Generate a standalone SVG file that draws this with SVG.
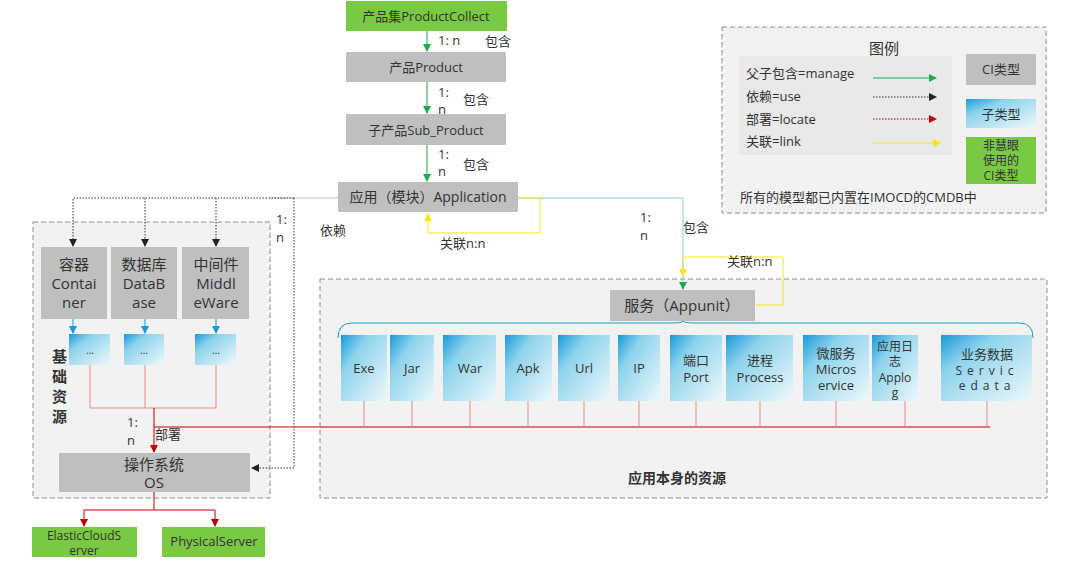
<svg xmlns="http://www.w3.org/2000/svg" width="1080" height="564" viewBox="0 0 1080 564">
<defs>
<linearGradient id="sg" x1="0" y1="0" x2="1" y2="1">
<stop offset="0" stop-color="#1a9ad8"/><stop offset="0.3" stop-color="#8dd3ec"/><stop offset="1" stop-color="#eef8fb"/>
</linearGradient>
<marker id="ag" markerWidth="8" markerHeight="8" refX="7" refY="4" orient="auto" markerUnits="userSpaceOnUse"><path d="M0,0L8,4L0,8z" fill="#1faa4c"/></marker>
<marker id="ak" markerWidth="8" markerHeight="8" refX="7" refY="4" orient="auto" markerUnits="userSpaceOnUse"><path d="M0,0L8,4L0,8z" fill="#222"/></marker>
<marker id="ar" markerWidth="8" markerHeight="8" refX="7" refY="4" orient="auto" markerUnits="userSpaceOnUse"><path d="M0,0L8,4L0,8z" fill="#c00000"/></marker>
<marker id="ay" markerWidth="8" markerHeight="8" refX="7" refY="4" orient="auto" markerUnits="userSpaceOnUse"><path d="M0,0L8,4L0,8z" fill="#f5e617"/></marker>
<marker id="ab" markerWidth="8" markerHeight="8" refX="7" refY="4" orient="auto" markerUnits="userSpaceOnUse"><path d="M0,0L8,4L0,8z" fill="#1a9ad8"/></marker>
</defs>
<style>
text{font-family:"Open Sans","Noto Sans CJK SC",sans-serif;fill:#333;font-size:13px}
.c{text-anchor:middle}
.gray{fill:#bfbfbf}
.green{fill:#7ac943}
.sub{fill:url(#sg)}
.dash{fill:#f2f2f2;stroke:#8c8c8c;stroke-dasharray:5,3;stroke-width:1}
.lg{stroke:#1faa4c;fill:none}
.lk{stroke:#333;stroke-dasharray:1.5,1.5;fill:none}
.lr{stroke:#c00000;fill:none}
.lrd{stroke:#c00000;stroke-dasharray:1.5,1.5;fill:none}
.lp{stroke:#e58a8a;fill:none}
.ly{stroke:#f5e617;fill:none}
.lt{stroke:#7fd3c8;fill:none}
.lb{stroke:#1a9ad8;fill:none}
.b{font-size:15px}
.s{font-size:12px}
</style>
<rect class="dash" x="33" y="222" width="237" height="276"/>
<rect class="dash" x="320" y="279" width="727" height="219"/>
<rect class="dash" x="722" y="27" width="324" height="186"/>

<g id="connectors">
<path class="lg" d="M427,31V51" marker-end="url(#ag)"/>
<path class="lg" d="M427,82V113" marker-end="url(#ag)"/>
<path class="lg" d="M427,145V181" marker-end="url(#ag)"/>
<path d="M270,198H338" stroke="#bfbfbf" fill="none"/>
<path class="lk" d="M294,198H73V246" marker-end="url(#ak)"/>
<path class="lk" d="M145,198V246" marker-end="url(#ak)"/>
<path class="lk" d="M216,198V246" marker-end="url(#ak)"/>
<path class="lk" d="M294,198V468H252" marker-end="url(#ak)"/>
<path class="lb" d="M73,319V333" marker-end="url(#ab)"/>
<path class="lb" d="M145,319V333" marker-end="url(#ab)"/>
<path class="lb" d="M216,319V333" marker-end="url(#ab)"/>
<path class="lp" d="M90,365V408H216V365M145,365V408"/>
<path class="lr" d="M154,408V452" marker-end="url(#ar)"/>
<path class="lr" d="M154,427H990"/>
<path class="lp" d="M364,401V427M412,401V427M470,401V427M528,401V427M584,401V427M639,401V427M696,401V427M760,401V427M836,401V427M905,401V427M987,401V427"/>
<path class="lr" d="M154,492V510H215V526" marker-end="url(#ar)"/>
<path class="lr" d="M154,510H84V526" marker-end="url(#ar)"/>
<path class="lt" d="M518,198H683V289" marker-end="url(#ag)"/>
<path class="ly" d="M518,198H540V233H428V214" marker-end="url(#ay)"/>
<path class="ly" d="M683,257H783V305H756"/>
<path class="ly" d="M683,257V276" marker-end="url(#ay)"/>
<path class="lb" d="M338,338Q338,323 352,323H670Q683,323 683,321Q683,323 696,323H1020Q1033,323 1033,338"/>
</g>

<g id="productcollect"><rect class="green" x="346" y="1" width="161" height="30"/><text class="c" x="426" y="21">产品集ProductCollect</text></g>
<text x="438" y="45">1: n</text><text x="485" y="46">包含</text>
<g id="product"><rect class="gray" x="346" y="52" width="160" height="30"/><text class="c" x="426" y="72">产品Product</text></g>
<text x="438" y="97">1:</text><text x="438" y="114">n</text><text x="463" y="104">包含</text>
<g id="subproduct"><rect class="gray" x="346" y="114" width="160" height="31"/><text class="c" x="426" y="135">子产品Sub_Product</text></g>
<text x="438" y="159">1:</text><text x="438" y="176">n</text><text x="463" y="169">包含</text>
<g id="application"><rect class="gray" x="338" y="182" width="180" height="30"/><text class="c" x="428" y="202" style="font-size:14px">应用（模块）Application</text></g>
<text x="276" y="224">1:</text><text x="276" y="242">n</text>
<text x="320" y="235">依赖</text>
<text x="440" y="248">关联n:n</text>
<text x="640" y="222">1:</text><text x="640" y="240">n</text><text x="683" y="232">包含</text>
<text x="727" y="266">关联n:n</text>

<g id="container"><rect class="gray" x="41" y="247" width="66" height="72"/><text class="c b" x="74" y="270">容器</text><text class="c b" x="74" y="289">Contai</text><text class="c b" x="74" y="308">ner</text></g>
<g id="database"><rect class="gray" x="111" y="247" width="66" height="72"/><text class="c b" x="144" y="270">数据库</text><text class="c b" x="144" y="289">DataB</text><text class="c b" x="144" y="308">ase</text></g>
<g id="middleware"><rect class="gray" x="182" y="247" width="67" height="72"/><text class="c b" x="216" y="270">中间件</text><text class="c b" x="216" y="289">Middl</text><text class="c b" x="216" y="308">eWare</text></g>
<g id="sub1"><rect class="sub" x="69" y="334" width="41" height="31"/><text class="c" x="90" y="354" style="font-size:10px">...</text></g>
<g id="sub2"><rect class="sub" x="124" y="334" width="40" height="31"/><text class="c" x="144" y="354" style="font-size:10px">...</text></g>
<g id="sub3"><rect class="sub" x="195" y="334" width="41" height="31"/><text class="c" x="216" y="354" style="font-size:10px">...</text></g>
<g id="jichu"><text x="52" y="362" style="font-weight:bold;font-size:15px">基</text><text x="52" y="382" style="font-weight:bold;font-size:15px">础</text><text x="52" y="402" style="font-weight:bold;font-size:15px">资</text><text x="52" y="422" style="font-weight:bold;font-size:15px">源</text></g>
<text x="127" y="427">1:</text><text x="127" y="445">n</text><text x="155" y="439">部署</text>
<g id="os"><rect class="gray" x="59" y="453" width="191" height="39"/><text class="c b" x="154" y="470">操作系统</text><text class="c b" x="154" y="488">OS</text></g>
<g id="ecs"><rect class="green" x="32" y="527" width="105" height="30"/><text class="c s" x="84" y="540">ElasticCloudS</text><text class="c s" x="84" y="555">erver</text></g>
<g id="physical"><rect class="green" x="162" y="527" width="103" height="30"/><text class="c" x="214" y="546">PhysicalServer</text></g>

<g id="appunit"><rect class="gray" x="610" y="290" width="145" height="31"/><text class="c" x="682" y="311" style="font-size:15px">服务（Appunit）</text></g>
<g id="exe"><rect class="sub" x="341" y="335" width="46" height="66"/><text class="c" x="364" y="373">Exe</text></g>
<g id="jar"><rect class="sub" x="390" y="335" width="44" height="66"/><text class="c" x="412" y="373">Jar</text></g>
<g id="war"><rect class="sub" x="443" y="335" width="53" height="66"/><text class="c" x="470" y="373">War</text></g>
<g id="apk"><rect class="sub" x="505" y="335" width="47" height="66"/><text class="c" x="528" y="373">Apk</text></g>
<g id="url"><rect class="sub" x="558" y="335" width="52" height="66"/><text class="c" x="584" y="373">Url</text></g>
<g id="ip"><rect class="sub" x="618" y="335" width="42" height="66"/><text class="c" x="639" y="373">IP</text></g>
<g id="port"><rect class="sub" x="670" y="335" width="52" height="66"/><text class="c" x="696" y="365">端口</text><text class="c" x="696" y="382">Port</text></g>
<g id="process"><rect class="sub" x="726" y="335" width="67" height="66"/><text class="c" x="760" y="365">进程</text><text class="c" x="760" y="382">Process</text></g>
<g id="micro"><rect class="sub" x="803" y="335" width="66" height="66"/><text class="c" x="836" y="358">微服务</text><text class="c" x="836" y="374">Micros</text><text class="c" x="836" y="390">ervice</text></g>
<g id="applog"><rect class="sub" x="872" y="335" width="46" height="66"/><text class="c s" x="895" y="351">应用日</text><text class="c s" x="895" y="366">志</text><text class="c s" x="895" y="382">Applo</text><text class="c s" x="895" y="397">g</text></g>
<g id="servicedata"><rect class="sub" x="941" y="335" width="91" height="66"/><text class="c" x="987" y="359">业务数据</text><text class="c s" x="987" y="375" style="letter-spacing:5px">Servic</text><text class="c s" x="987" y="390" style="letter-spacing:5px">edata</text></g>
<text class="c" x="677" y="483" style="font-weight:bold;font-size:14px">应用本身的资源</text>

<g id="legend">
<text class="c" x="884" y="54" style="font-size:15px">图例</text>
<rect x="739" y="56" width="213" height="99" fill="#e9e9e9"/>
<text x="746" y="78">父子包含=manage</text>
<text x="746" y="101">依赖=use</text>
<text x="746" y="124">部署=locate</text>
<text x="746" y="146">关联=link</text>
<path class="lg" d="M873,78H936" marker-end="url(#ag)"/>
<path class="lk" d="M873,97H936" marker-end="url(#ak)"/>
<path class="lrd" d="M873,119H936" marker-end="url(#ar)"/>
<path class="ly" d="M873,143H940" marker-end="url(#ay)"/>
<rect class="gray" x="966" y="54" width="70" height="31"/><text class="c" x="1001" y="74">CI类型</text>
<rect class="sub" x="966" y="99" width="70" height="29"/><text class="c" x="1001" y="119">子类型</text>
<rect class="green" x="966" y="137" width="70" height="47"/><text class="c s" x="1001" y="150">非慧眼</text><text class="c s" x="1001" y="165">使用的</text><text class="c s" x="1001" y="180">CI类型</text>
<text x="740" y="202">所有的模型都已内置在IMOCD的CMDB中</text>
</g>
</svg>
